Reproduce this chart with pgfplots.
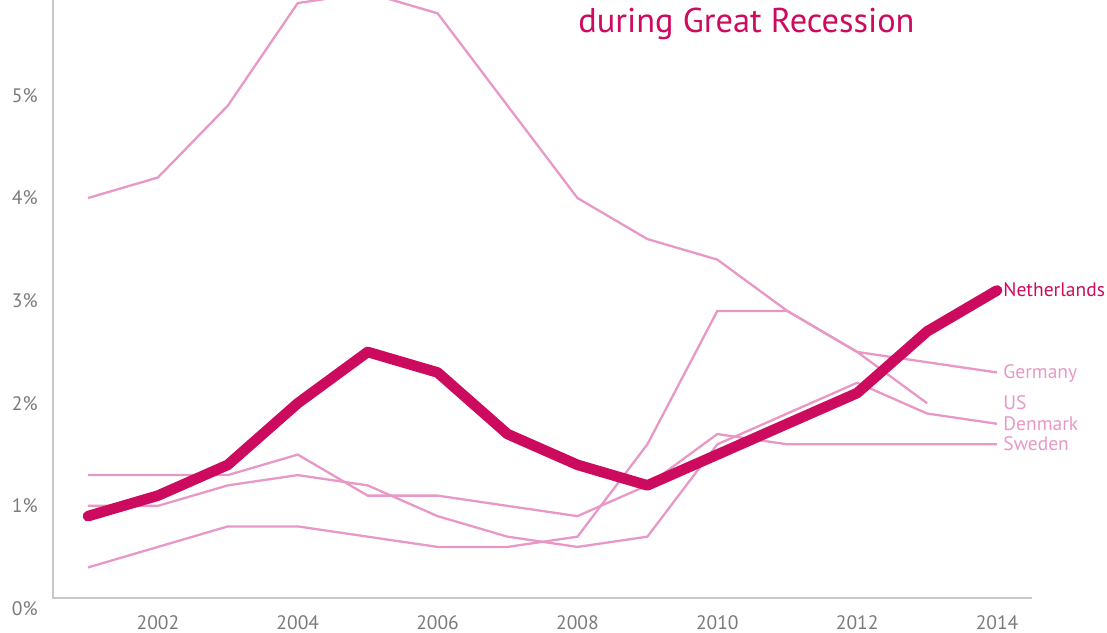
\documentclass[border=0pt]{standalone}
\usepackage{pgfplots}
\pgfplotsset{compat=1.18}
\usepackage{pgfplotstable}
\usepackage{fontspec}
\setmainfont{PT Sans}
\definecolor{nlred}{HTML}{CC0A5E}
\definecolor{pinkline}{HTML}{E898C6}
\definecolor{tickgray}{HTML}{7A7A7A}
\definecolor{axisgray}{HTML}{C8C8C8}

% inflation, % per year
\pgfplotstableread{
year nl  us  de  dk  se
2001 0.9 4.0 0.4 1.0 1.3
2002 1.1 4.2 0.6 1.0 1.3
2003 1.4 4.9 0.8 1.2 1.3
2004 2.0 5.9 0.8 1.3 1.5
2005 2.5 6.0 0.7 1.2 1.1
2006 2.3 5.8 0.6 0.9 1.1
2007 1.7 4.9 0.6 0.7 1.0
2008 1.4 4.0 0.7 0.6 0.9
2009 1.2 3.6 1.6 0.7 1.2
2010 1.5 3.4 2.9 1.6 1.7
2011 1.8 2.9 2.9 1.9 1.6
2012 2.1 2.5 2.5 2.2 1.6
2013 2.7 2.0 2.4 1.9 1.6
2014 3.1 nan 2.3 1.8 1.6
}\datatable

\begin{document}
\begin{tikzpicture}
\path[use as bounding box] (0,0) rectangle (553.5bp,316.5bp);
\begin{axis}[
  at={(26.5bp,12.25bp)}, anchor=south west,
  scale only axis, width=489.5bp, height=304.25bp,
  xmin=2000.5, xmax=2014.5, ymin=0, ymax=5.93,
  axis lines*=left, axis line style={draw=none},
  major tick length=0pt,
  xtick={2002,2004,...,2014},
  xticklabels={2002,2004,2006,2008,2010,2012,2014},
  ytick={0,1,...,5},
  yticklabels={0\%,1\%,2\%,3\%,4\%,5\%},
  tick label style={font=\fontsize{9.75bp}{11bp}\selectfont, text=tickgray},
  yticklabel style={anchor=east, inner sep=0pt, xshift=-7.5bp},
  xticklabel style={anchor=north, inner sep=0pt, yshift=-3.5bp},
]
\addplot[pinkline, line width=1.15bp] table[x=year, y=us] {\datatable};
\addplot[pinkline, line width=1.15bp] table[x=year, y=de] {\datatable};
\addplot[pinkline, line width=1.15bp] table[x=year, y=dk] {\datatable};
\addplot[pinkline, line width=1.15bp] table[x=year, y=se] {\datatable};
\addplot[nlred, line width=5.3bp, line cap=round, line join=round] table[x=year, y=nl] {\datatable};

\coordinate (lnl) at (axis cs:2014,3.1);
\coordinate (lde) at (axis cs:2014,2.3);
\coordinate (lus) at (axis cs:2014,2.0);
\coordinate (ldk) at (axis cs:2014,1.8);
\coordinate (lse) at (axis cs:2014,1.6);
\coordinate (ytop) at (axis cs:2000.5,5.93);
\coordinate (corner) at (axis cs:2000.5,0.1);
\coordinate (xend) at (axis cs:2014.5,0.1);
\end{axis}

\draw[axisgray, line width=0.85bp] (ytop) -- (corner) -- (xend);

\begin{scope}[every node/.style={anchor=base west, inner sep=0pt, xshift=3bp, yshift=-3.2bp,
    font=\fontsize{9.75bp}{11bp}\selectfont}]
\node[text=nlred] at (lnl) {Netherlands};
\node[text=pinkline] at (lde) {Germany};
\node[text=pinkline] at (lus) {US};
\node[text=pinkline] at (ldk) {Denmark};
\node[text=pinkline] at (lse) {Sweden};
\end{scope}

\node[anchor=base west, inner sep=0pt, text=nlred, font=\fontsize{17.2bp}{20bp}\selectfont]
  at (289bp,300.35bp) {during Great Recession};
\end{tikzpicture}
\end{document}
